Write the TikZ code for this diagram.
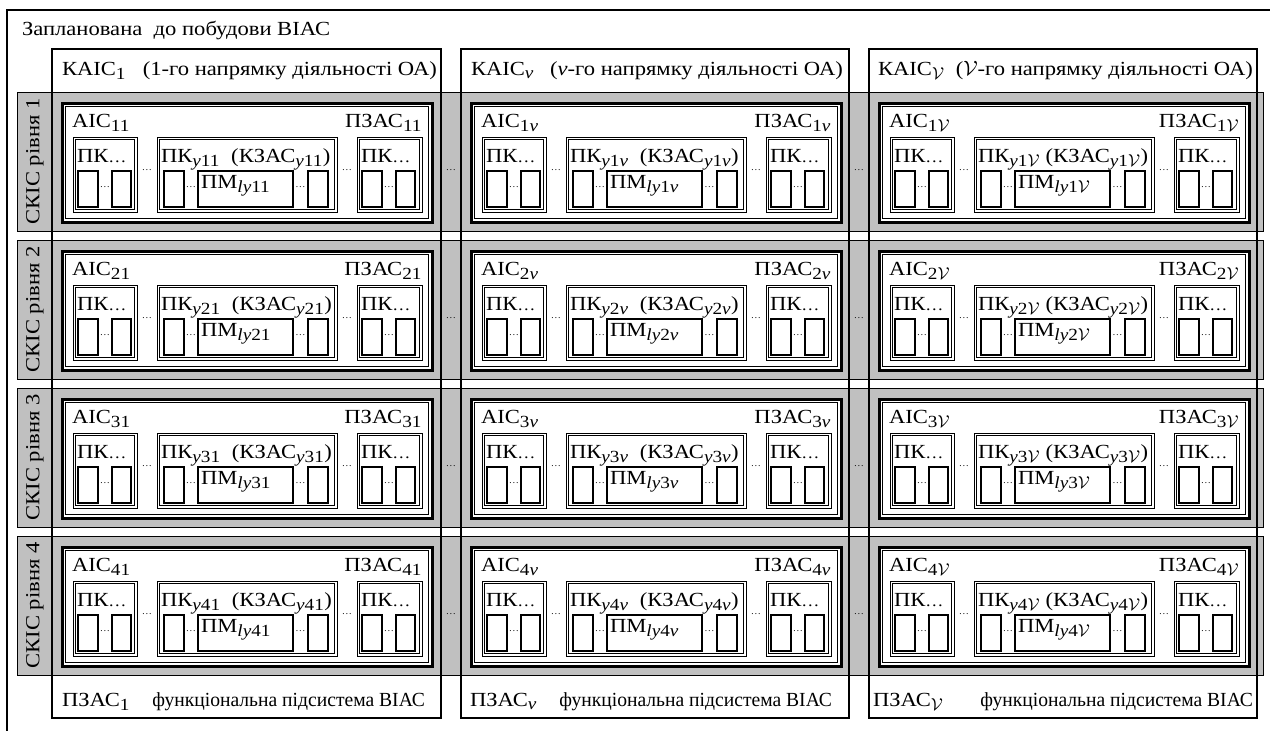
\documentclass[tikz,border=0pt]{standalone}
\usepackage{fontspec}
\setmainfont{Liberation Serif}[FakeStretch=1.13]
\newfontfamily\narrowfont{Liberation Serif}[FakeStretch=0.98]
\definecolor{bandgray}{RGB}{192,192,192}
\newcommand\sbs[1]{\textsubscript{\fontsize{17}{17}\selectfont #1}}
\begin{document}
\begin{tikzpicture}[x=1pt,y=-1pt,
  every node/.style={inner sep=0pt, outer sep=0pt},
  txt/.style={font=\fontsize{20}{24}\selectfont, anchor=base west},
  txtr/.style={font=\fontsize{20}{24}\selectfont, anchor=base east},
  ftxtr/.style={font=\narrowfont\fontsize{20}{24}\selectfont, anchor=base east},
  dotsn/.style={font=\fontsize{9}{9}\selectfont, anchor=center},
  band/.style={draw=black, line width=1pt, fill=bandgray},
  colbox/.style={draw=black, line width=1.2pt},
  aicout/.style={draw=black, line width=3pt, fill=white},
  aicin/.style={draw=black, line width=0.8pt},
  pkbox/.style={draw=black, line width=1pt},
  pkin/.style={draw=black, line width=0.6pt},
  cellbox/.style={draw=black, line width=1.6pt, fill=white}]
\useasboundingbox (0,0) rectangle (1270,731);
\fill[white] (0,0) rectangle (1270,731);
\draw[line width=1.5pt] (7,10) rectangle (1285,750);
\node[txt] (title) at (22,35) {Запланована\ \ до побудови ВІАС};
% bands
\foreach \rr in {1,...,4} {
  \pgfmathsetmacro\T{92+(\rr-1)*148}
  \draw[band] (17,\T) rectangle (1263,\T+139);
  \node[rotate=90, font=\fontsize{20}{24}\selectfont, anchor=center] (lab\rr) at (35,\T+69.5) {СКІС рівня \rr};
}
% columns
\foreach \cc/\L/\R/\sym/\hx/\hr/\fx/\fr in {1/52/441/1/62/437/62/425, 2/461/849/{\textit{ν}}/471/843/470/832, 3/869/1257/{\ensuremath{\mathcal{V}}}/878/1253/873/1253} {
  \ifnum\cc=3 \def\gap{\ }\else\def\gap{\ \ }\fi
  \draw[colbox] (\L,49) rectangle (\R,718);
  \node[txt] (kh\cc) at (\hx,75) {КАІС\sbs{\sym}};
  \node[txtr] (kd\cc) at (\hr,75) {(\sym-го напрямку діяльності ОА)};
  \node[txt] (fh\cc) at (\fx,706) {ПЗАС\sbs{\sym}};
  \node[ftxtr] (fd\cc) at (\fr,706) {функціональна підсистема ВІАС};
  \foreach \rr in {1,...,4} {
    \pgfmathsetmacro\X{\L+10}
    \pgfmathsetmacro\Y{92+(\rr-1)*148+11}
    \draw[aicout] (\X,\Y) rectangle (\X+370,\Y+119);
    \draw[aicin] (\X+3.5,\Y+3.5) rectangle (\X+366.5,\Y+115.5);
    \node[txt] (aic\rr\cc) at (\X+10,\Y+24) {АІС\sbs{\rr\sym}};
    \node[txtr] (pz\rr\cc) at (\X+360,\Y+24) {ПЗАС\sbs{\rr\sym}};
    \ifnum\cc<3
      \node[dotsn] (cd\rr\cc) at (\R+10,\Y+67) {…};
    \fi
    \node[dotsn] (d1\rr\cc) at (\X+85,\Y+67) {…};
    \node[dotsn] (d2\rr\cc) at (\X+285,\Y+67) {…};
    \foreach \k/\px/\pw in {a/11/64, b/95/180, c/295/65} {
      \pgfmathsetmacro\P{\X+\px}
      \pgfmathsetmacro\Q{\Y+34}
      \draw[pkbox] (\P,\Q) rectangle (\P+\pw,\Q+75);
      \draw[pkin] (\P+2.5,\Q+2.5) rectangle (\P+\pw-2.5,\Q+72.5);
      \if b\k
        \node[txt] (pk\k\rr\cc) at (\P+4,\Q+25) {ПК\sbs{\textit{y}\rr\sym}\gap(КЗАС\sbs{\textit{y}\rr\sym})};
        \draw[cellbox] (\P+7,\Q+34) rectangle (\P+27,\Q+70);
        \draw[cellbox] (\P+41,\Q+34) rectangle (\P+136,\Q+70);
        \draw[cellbox] (\P+151,\Q+34) rectangle (\P+171,\Q+70);
        \node[dotsn] (pd1\rr\cc) at (\P+34,\Q+50) {…};
        \node[dotsn] (pd2\rr\cc) at (\P+143.5,\Q+50) {…};
        \node[txt] (pm\rr\cc) at (\P+44,\Q+51) {ПМ\sbs{\textit{ly}\rr\sym}};
      \else
        \node[txt] (pk\k\rr\cc) at (\P+4,\Q+25) {ПК{\fontsize{16}{16}\selectfont…}};
        \draw[cellbox] (\P+5,\Q+34) rectangle (\P+25,\Q+70);
        \draw[cellbox] (\P+39,\Q+34) rectangle (\P+58,\Q+70);
        \node[dotsn] (sd\k\rr\cc) at (\P+32,\Q+50) {…};
      \fi
    }
  }
}
\end{tikzpicture}
\end{document}
